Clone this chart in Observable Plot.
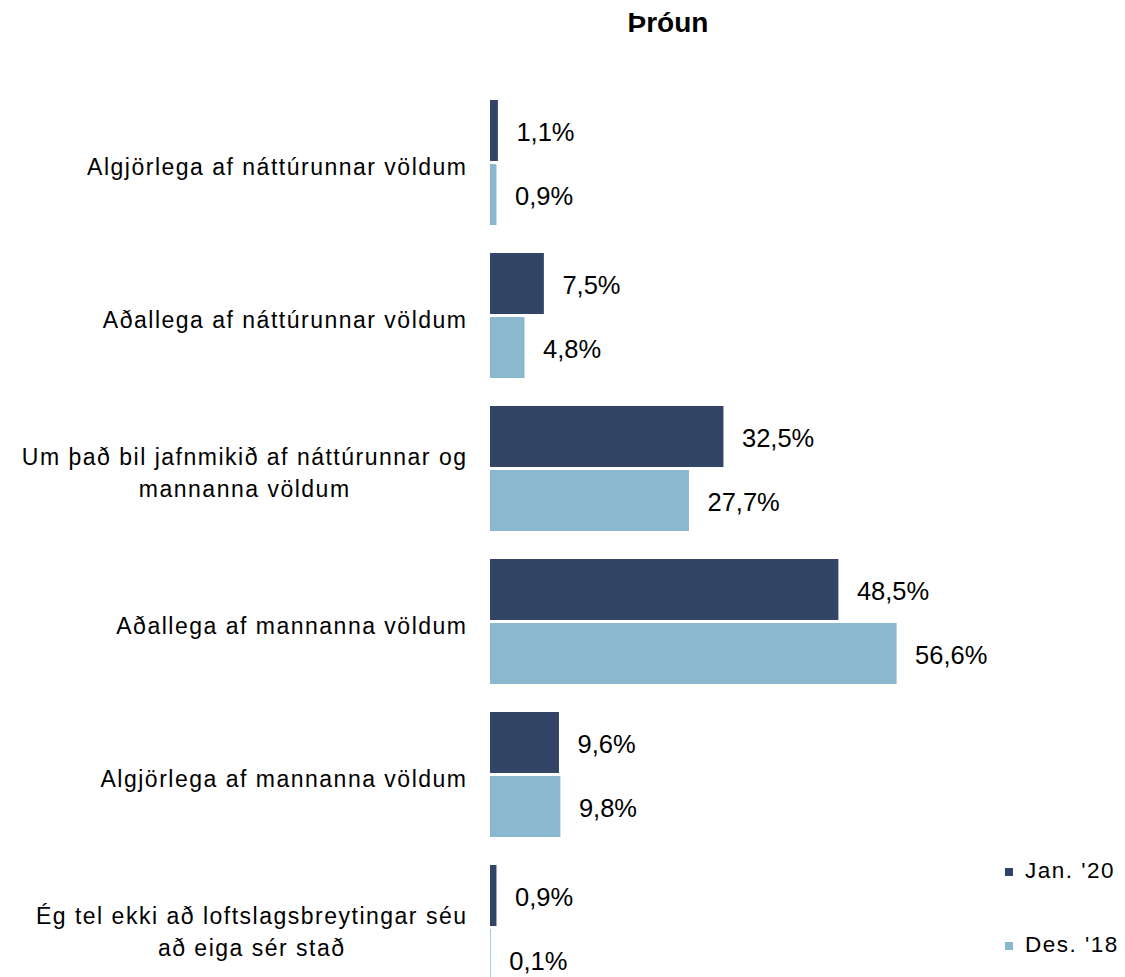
<!DOCTYPE html>
<html>
<head>
<meta charset="utf-8">
<script src="https://cdn.jsdelivr.net/npm/d3@7"></script>
<script src="https://cdn.jsdelivr.net/npm/@observablehq/plot@0.6"></script>
<style>
  html, body { margin: 0; padding: 0; background: #fff; overflow: hidden; }
  #wrap { position: relative; width: 1125px; height: 977px; font-family: "Liberation Sans", Arial, sans-serif; }
  #title { position: absolute; left: 568px; width: 200px; top: 9px; text-align: center; font-weight: bold; font-size: 28px; line-height: 28px; color: #000; }
  .leg { position: absolute; left: 1005px; font-size: 22.5px; line-height: 22.5px; color: #000; white-space: nowrap; letter-spacing: 1.5px; }
  .leg .sw { position: absolute; left: 0; width: 8px; height: 8px; }
  .leg .lb { position: absolute; left: 20px; }
  #chart { position: absolute; left: 0; top: 0; }
</style>
</head>
<body>
<div id="wrap">
  <div id="chart"></div>
  <div id="title">Þróun</div>
  <div id="legend"></div>
</div>
<script>
const categories = [
  "Algjörlega af náttúrunnar völdum",
  "Aðallega af náttúrunnar völdum",
  "Um það bil jafnmikið af náttúrunnar og\nmannanna völdum",
  "Aðallega af mannanna völdum",
  "Algjörlega af mannanna völdum",
  "Ég tel ekki að loftslagsbreytingar séu\nað eiga sér stað"
];
const seriesNames = ["Jan. '20", "Des. '18"];
const jan20 = [1.1, 7.5, 32.5, 48.5, 9.6, 0.9];
const des18 = [0.9, 4.8, 27.7, 56.6, 9.8, 0.1];
const seriesColors = ["#334566", "#8ab8ce"];

const janData = categories.map((c, i) => ({cat: c, value: jan20[i], series: seriesNames[0]}));
const desData = categories.map((c, i) => ({cat: c, value: des18[i], series: seriesNames[1]}));
const fmt = v => v.toFixed(1).replace(".", ",") + "%";

const chart = Plot.plot({
  width: 1125,
  height: 977,
  marginLeft: 490,
  marginRight: 204,
  marginTop: 0,
  marginBottom: 0,
  style: {fontFamily: "Liberation Sans, Arial, sans-serif", background: "white", color: "black"},
  x: {domain: [0, 60], axis: null},
  y: {domain: categories, range: [100, 990.6], paddingInner: 0.1835, paddingOuter: 0, axis: null},
  marks: [
    Plot.text(categories, {
      y: d => d, text: d => d, frameAnchor: "left", dx: -23, dy: 2,
      textAnchor: "end", fontSize: 23, lineHeight: 1.4, fill: "black"
    }),
    Plot.barX(janData, {x: "value", y: "cat", fill: seriesColors[0], insetBottom: 64}),
    Plot.barX(desData, {x: "value", y: "cat", fill: seriesColors[1], insetTop: 64}),
    Plot.text(janData, {x: "value", y: "cat", text: d => fmt(d.value), dx: 18, dy: -30, textAnchor: "start", fontSize: 25.5, fill: "black"}),
    Plot.text(desData, {x: "value", y: "cat", text: d => fmt(d.value), dx: 18, dy: 34, textAnchor: "start", fontSize: 25.5, fill: "black"})
  ]
});
document.getElementById("chart").appendChild(chart);

// category labels: letter spacing and centred multi-line blocks (right edge aligned)
const labelGroup = chart.querySelectorAll('g[aria-label="text"]')[0];
if (labelGroup) {
  labelGroup.setAttribute("letter-spacing", "1.5");
  labelGroup.querySelectorAll("text").forEach(t => {
    const spans = t.querySelectorAll("tspan");
    if (spans.length > 1) {
      let w = 0;
      spans.forEach(s => { w = Math.max(w, s.getComputedTextLength()); });
      t.setAttribute("text-anchor", "middle");
      spans.forEach(s => s.setAttribute("x", String(-w / 2)));
    }
  });
}

// legend
const legend = document.getElementById("legend");
const legTops = [860, 934];
seriesNames.forEach((name, i) => {
  const d = document.createElement("div");
  d.className = "leg";
  d.style.top = legTops[i] + "px";
  d.innerHTML = `<span class="sw" style="background:${seriesColors[i]};top:${8}px"></span><span class="lb"></span>`;
  d.querySelector(".lb").textContent = name;
  legend.appendChild(d);
});
</script>
</body>
</html>
